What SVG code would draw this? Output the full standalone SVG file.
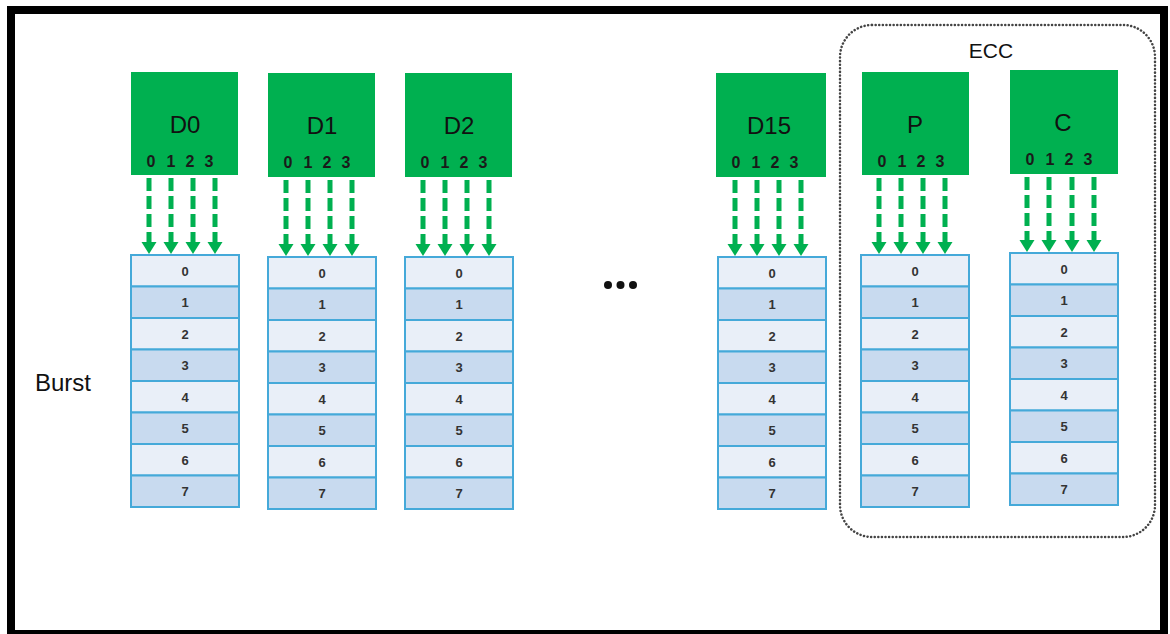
<svg xmlns="http://www.w3.org/2000/svg" width="1170" height="634" viewBox="0 0 1170 634">
<style>
.frame{fill:#fff;stroke:#000;stroke-width:8}
.chip{fill:#00b050}
.lbl{font-family:"Liberation Sans",Arial,sans-serif;font-size:24px;fill:#111;text-anchor:middle}
.pin{font-family:"Liberation Sans",Arial,sans-serif;font-size:16px;font-weight:bold;fill:#1a1a1a;text-anchor:middle}
.ra{fill:#e9eff8;stroke:#45a9d9;stroke-width:2}
.rb{fill:#c8daef;stroke:#45a9d9;stroke-width:2}
.num{font-family:"Liberation Sans",Arial,sans-serif;font-size:13px;font-weight:bold;fill:#333;text-anchor:middle}
.conn{stroke:#00b050;stroke-width:5;stroke-dasharray:13 5;fill:none}
.ecc{fill:none;stroke:#444;stroke-width:2.5;stroke-dasharray:0.1 3.5;stroke-linecap:round}
.txt{font-family:"Liberation Sans",Arial,sans-serif;fill:#111}
</style>
<defs>
<marker id="ah" markerUnits="userSpaceOnUse" markerWidth="14" markerHeight="16" refX="0" refY="8" orient="auto">
<path d="M0,0.5 L12,8 L0,15.5 z" fill="#00b050"/>
</marker>
<g id="rows">
<rect class="ra" x="0" y="0" width="108" height="31.5"/>
<rect class="rb" x="0" y="31.5" width="108" height="31.5"/>
<rect class="ra" x="0" y="63" width="108" height="31.5"/>
<rect class="rb" x="0" y="94.5" width="108" height="31.5"/>
<rect class="ra" x="0" y="126" width="108" height="31.5"/>
<rect class="rb" x="0" y="157.5" width="108" height="31.5"/>
<rect class="ra" x="0" y="189" width="108" height="31.5"/>
<rect class="rb" x="0" y="220.5" width="108" height="31.5"/>
<text class="num" x="54" y="20.5">0</text>
<text class="num" x="54" y="52">1</text>
<text class="num" x="54" y="83.5">2</text>
<text class="num" x="54" y="115">3</text>
<text class="num" x="54" y="146.5">4</text>
<text class="num" x="54" y="178">5</text>
<text class="num" x="54" y="209.5">6</text>
<text class="num" x="54" y="241">7</text>
</g>
<g id="pins">
<text class="pin" x="20" y="95">0</text>
<text class="pin" x="40" y="95">1</text>
<text class="pin" x="59" y="95">2</text>
<text class="pin" x="78" y="95">3</text>
</g>
</defs>
<rect class="frame" x="11" y="10" width="1153" height="624"/>

<g id="ecc-group">
<rect class="ecc" x="840" y="25" width="315" height="512" rx="32" ry="32"/>
<text class="txt" x="991" y="58" font-size="21" text-anchor="middle">ECC</text>
</g>

<g id="burst-label"><text class="txt" x="35" y="391" font-size="24">Burst</text></g>

<g id="ellipsis" fill="#111">
<circle cx="608" cy="285" r="4"/>
<circle cx="620.5" cy="285" r="4"/>
<circle cx="633" cy="285" r="4"/>
</g>

<g id="D0">
<rect class="chip" x="131" y="72" width="107" height="103"/>
<text class="lbl" x="185" y="133">D0</text>
<use href="#pins" x="131" y="72"/>
<use href="#rows" x="131" y="255"/>
</g>
<g id="D1">
<rect class="chip" x="268" y="73" width="107" height="104"/>
<text class="lbl" x="322" y="134">D1</text>
<use href="#pins" x="268" y="73"/>
<use href="#rows" x="268" y="257"/>
</g>
<g id="D2">
<rect class="chip" x="405" y="73" width="107" height="104"/>
<text class="lbl" x="459" y="134">D2</text>
<use href="#pins" x="405" y="73"/>
<use href="#rows" x="405" y="257"/>
</g>
<g id="D15">
<rect class="chip" x="716" y="73" width="110" height="104"/>
<text class="lbl" x="769" y="134">D15</text>
<use href="#pins" x="716" y="73"/>
<use href="#rows" x="718" y="257"/>
</g>
<g id="P">
<rect class="chip" x="862" y="72" width="107" height="103"/>
<text class="lbl" x="915" y="133">P</text>
<use href="#pins" x="862" y="72"/>
<use href="#rows" x="861" y="255"/>
</g>
<g id="C">
<rect class="chip" x="1010" y="70" width="108" height="104"/>
<text class="lbl" x="1063" y="131">C</text>
<use href="#pins" x="1010" y="70"/>
<use href="#rows" x="1010" y="253"/>
</g>

<g id="connectors">
<line class="conn" x1="149" y1="178" x2="149" y2="242" marker-end="url(#ah)"/>
<line class="conn" x1="171" y1="178" x2="171" y2="242" marker-end="url(#ah)"/>
<line class="conn" x1="193" y1="178" x2="193" y2="242" marker-end="url(#ah)"/>
<line class="conn" x1="215" y1="178" x2="215" y2="242" marker-end="url(#ah)"/>

<line class="conn" x1="286" y1="180" x2="286" y2="244" marker-end="url(#ah)"/>
<line class="conn" x1="308" y1="180" x2="308" y2="244" marker-end="url(#ah)"/>
<line class="conn" x1="330" y1="180" x2="330" y2="244" marker-end="url(#ah)"/>
<line class="conn" x1="352" y1="180" x2="352" y2="244" marker-end="url(#ah)"/>

<line class="conn" x1="423" y1="180" x2="423" y2="244" marker-end="url(#ah)"/>
<line class="conn" x1="445" y1="180" x2="445" y2="244" marker-end="url(#ah)"/>
<line class="conn" x1="467" y1="180" x2="467" y2="244" marker-end="url(#ah)"/>
<line class="conn" x1="489" y1="180" x2="489" y2="244" marker-end="url(#ah)"/>

<line class="conn" x1="735" y1="180" x2="735" y2="244" marker-end="url(#ah)"/>
<line class="conn" x1="757" y1="180" x2="757" y2="244" marker-end="url(#ah)"/>
<line class="conn" x1="779" y1="180" x2="779" y2="244" marker-end="url(#ah)"/>
<line class="conn" x1="801" y1="180" x2="801" y2="244" marker-end="url(#ah)"/>

<line class="conn" x1="879" y1="178" x2="879" y2="242" marker-end="url(#ah)"/>
<line class="conn" x1="901" y1="178" x2="901" y2="242" marker-end="url(#ah)"/>
<line class="conn" x1="923" y1="178" x2="923" y2="242" marker-end="url(#ah)"/>
<line class="conn" x1="945" y1="178" x2="945" y2="242" marker-end="url(#ah)"/>

<line class="conn" x1="1027" y1="177" x2="1027" y2="240" marker-end="url(#ah)"/>
<line class="conn" x1="1049" y1="177" x2="1049" y2="240" marker-end="url(#ah)"/>
<line class="conn" x1="1072" y1="177" x2="1072" y2="240" marker-end="url(#ah)"/>
<line class="conn" x1="1094" y1="177" x2="1094" y2="240" marker-end="url(#ah)"/>
</g>
</svg>
